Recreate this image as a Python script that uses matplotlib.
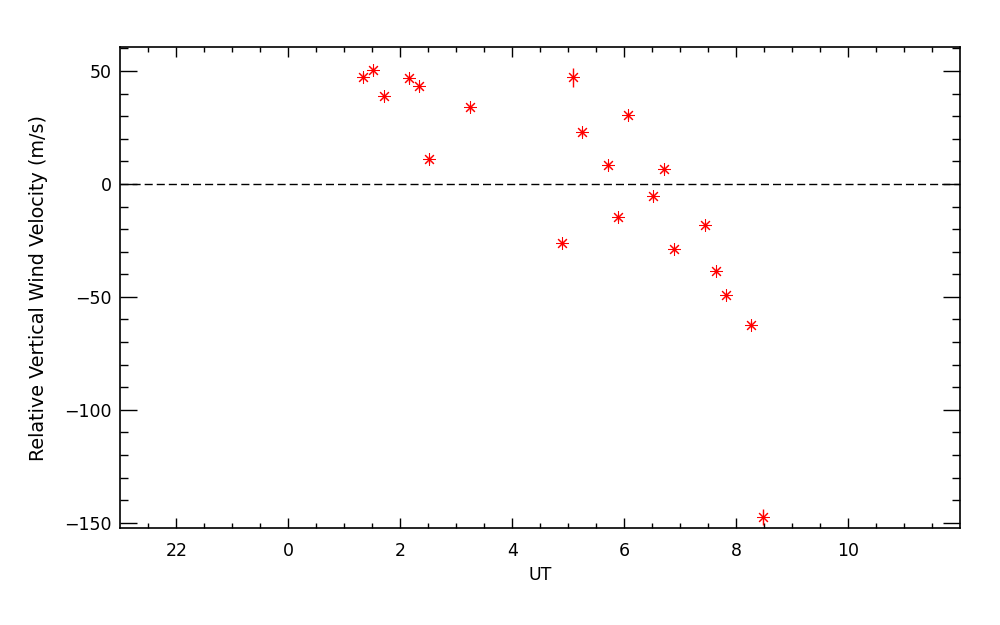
import matplotlib
matplotlib.use("Agg")
from matplotlib import pyplot as plt

# UT in hours (values before midnight are negative, 22 UT -> -2)
ut_hours = [1.34, 1.52, 1.71, 2.16, 2.34, 2.52, 3.25, 4.89, 5.08, 5.25, 5.70,
            5.89, 6.07, 6.52, 6.71, 6.89, 7.44, 7.64, 7.82, 8.26, 8.47]
# relative vertical wind velocity (m/s)
velocity = [47.5, 50.3, 38.8, 46.8, 43.2, 10.9, 33.9, -26.2, 47.2, 22.9, 8.3,
            -14.7, 30.4, -5.4, 6.5, -28.8, -18.3, -38.6, -49.3, -62.4, -147.6]
velocity_err = [1.5, 1.5, 1.5, 1.5, 1.5, 1.5, 1.5, 1.5, 4.1, 1.5, 1.5,
                1.5, 1.5, 1.5, 1.5, 1.5, 1.5, 1.5, 1.5, 1.5, 3.6]

x_ticks = [-2, 0, 2, 4, 6, 8, 10]
x_tick_labels = ["22", "0", "2", "4", "6", "8", "10"]
y_ticks = [-150, -100, -50, 0, 50]

plt.rcParams['font.family'] = ['DejaVu Sans']
fig = plt.figure(figsize=(10, 6.25), dpi=100)
ax = fig.add_axes([0.1203, 0.1547, 0.84, 0.7696])

# zero reference line
ax.axhline(0, color="black", lw=1.0, linestyle=(0, (5.8, 2.9)), zorder=1)

# error bars then asterisk symbols
ax.errorbar(ut_hours, velocity, yerr=velocity_err, fmt="none", ecolor="red",
            elinewidth=1.0, capsize=0, zorder=2)
ax.plot(ut_hours, velocity, linestyle="none", marker=(8, 2, 0), markersize=9,
        markeredgecolor="red", markeredgewidth=0.75, zorder=3)
ax.plot(ut_hours, velocity, linestyle="none", marker="o", markersize=2.2,
        color="red", markeredgewidth=0, zorder=4)

ax.set_xlim(-3, 12)
ax.set_ylim(-152.5, 60.5)
ax.set_xticks(x_ticks)
ax.set_xticklabels(x_tick_labels)
ax.set_xticks([v * 0.5 for v in range(-5, 24)], minor=True)
ax.set_yticks(y_ticks)
ax.set_yticks(list(range(-150, 61, 10)), minor=True)

for side in ax.spines.values():
    side.set_linewidth(1.2)

ax.tick_params(axis="x", which="major", direction="in", length=7.5, width=1,
               top=True, pad=10, labelsize=12.5)
ax.tick_params(axis="x", which="minor", direction="in", length=3.8, width=1,
               top=True)
ax.tick_params(axis="y", which="major", direction="in", length=12.5, width=1,
               right=True, pad=6, labelsize=12.5)
ax.tick_params(axis="y", which="minor", direction="in", length=6, width=1,
               right=True)

ax.set_xlabel("UT", fontsize=12.5, labelpad=4)
ax.set_ylabel("Relative Vertical Wind Velocity (m/s)", fontsize=13.8, labelpad=12)

fig.savefig("out.png", dpi=100)
